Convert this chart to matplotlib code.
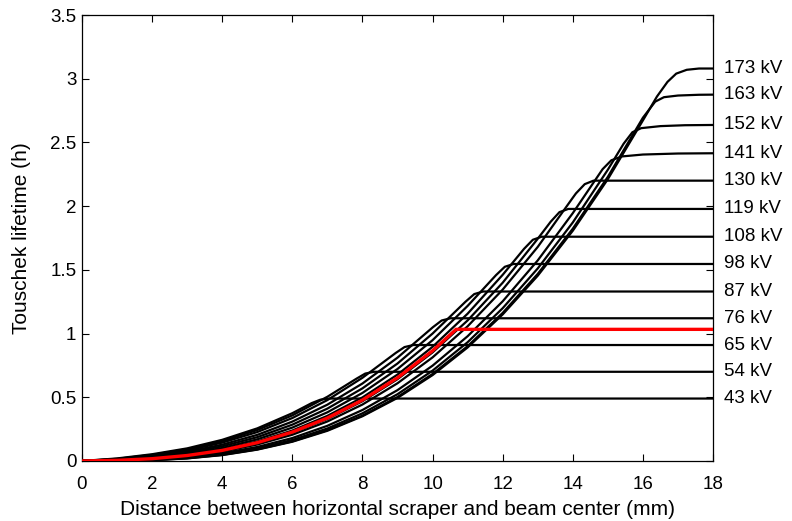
import matplotlib
matplotlib.use("Agg")
import matplotlib.pyplot as plt

plt.rcParams['font.family'] = ['Liberation Sans', 'DejaVu Sans']

# ---- data (x in mm, y in hours) ----
kv_labels = ["43 kV", "54 kV", "65 kV", "76 kV", "87 kV", "98 kV", "108 kV",
             "119 kV", "130 kV", "141 kV", "152 kV", "163 kV", "173 kV"]
plateau_end = [0.49, 0.70, 0.91, 1.12, 1.33, 1.546, 1.76, 1.978, 2.20, 2.415,
               2.637, 2.875, 3.08]

kv43_x = [0, 1, 2, 3, 4, 5, 6, 6.55, 6.8, 7.05, 18]
kv43_y = [0, 0.020, 0.053, 0.099, 0.166, 0.256, 0.375, 0.454, 0.481, 0.49, 0.49]

kv54_x = [0, 1, 2, 3, 4, 5, 6, 7, 7.83, 8.08, 8.33, 18]
kv54_y = [0, 0.017, 0.048, 0.092, 0.155, 0.243, 0.358, 0.504, 0.646, 0.686, 0.70, 0.70]

kv65_x = [0, 1, 2, 3, 4, 5, 6, 7, 8, 8.95, 9.2, 9.45, 18]
kv65_y = [0, 0.014, 0.043, 0.083, 0.144, 0.227, 0.337, 0.478, 0.653, 0.848, 0.894, 0.91, 0.91]

kv76_x = [0, 1, 2, 3, 4, 5, 6, 7, 8, 9, 10.01, 10.26, 10.51, 18]
kv76_y = [0, 0.012, 0.036, 0.073, 0.128, 0.205, 0.309, 0.442, 0.608, 0.811, 1.05, 1.1025, 1.12, 1.12]

kv87_x = [0, 1, 2, 3, 4, 5, 6, 7, 8, 9, 10, 10.94, 11.19, 11.44, 18]
kv87_y = [0, 0.010, 0.031, 0.064, 0.115, 0.187, 0.285, 0.411, 0.570, 0.765, 1.000, 1.25, 1.31, 1.33, 1.33]

kv98_x = [0, 1, 2, 3, 4, 5, 6, 7, 8, 9, 10, 11, 11.81, 12.06, 12.31, 18]
kv98_y = [0, 0.008, 0.026, 0.055, 0.102, 0.170, 0.262, 0.382, 0.534, 0.722, 0.948, 1.217, 1.4585, 1.524, 1.546, 1.546]

kv108_x = [0, 1, 2, 3, 4, 5, 6, 7, 8, 9, 10, 11, 12, 12.61, 12.86, 13.11, 18]
kv108_y = [0, 0.006, 0.020, 0.047, 0.090, 0.153, 0.239, 0.354, 0.499, 0.678, 0.896, 1.156, 1.461, 1.665, 1.736, 1.76, 1.76]

kv119_x = [0, 1, 2, 3, 4, 5, 6, 7, 8, 9, 10, 11, 12, 13, 13.37, 13.62, 13.87, 18]
kv119_y = [0, 0.005, 0.017, 0.041, 0.081, 0.140, 0.222, 0.330, 0.469, 0.642, 0.852, 1.103, 1.399, 1.744, 1.878, 1.953, 1.978, 1.978]

kv130_x = [0, 1, 2, 3, 4, 5, 6, 7, 8, 9, 10, 11, 12, 13, 14, 14.09, 14.34, 14.59, 18]
kv130_y = [0, 0.004, 0.015, 0.037, 0.073, 0.129, 0.206, 0.310, 0.443, 0.610, 0.813, 1.057, 1.345, 1.680, 2.066, 2.10, 2.1725, 2.20, 2.20]

kv141_x = [0, 1, 2, 3, 4, 5, 6, 7, 8, 9, 10, 11, 12, 13, 14, 14.85, 15.1, 15.4, 16.0, 17.0, 18]
kv141_y = [0, 0.003, 0.011, 0.029, 0.061, 0.110, 0.180, 0.276, 0.400, 0.556, 0.748, 0.979, 1.253, 1.574, 1.945, 2.29, 2.36, 2.39, 2.405, 2.413, 2.415]

kv152_x = [0, 1, 2, 3, 4, 5, 6, 7, 8, 9, 10, 11, 12, 13, 14, 15, 15.45, 15.7, 15.95, 16.5, 17.2, 18]
kv152_y = [0, 0.002, 0.008, 0.024, 0.053, 0.099, 0.165, 0.255, 0.374, 0.524, 0.709, 0.932, 1.199, 1.511, 1.872, 2.286, 2.49, 2.58, 2.612, 2.628, 2.635, 2.637]

kv163_x = [0, 1, 2, 3, 4, 5, 6, 7, 8, 9, 10, 11, 12, 13, 14, 15, 16, 16.1, 16.35, 16.6, 17.0, 17.6, 18]
kv163_y = [0, 0.001, 0.007, 0.021, 0.048, 0.091, 0.154, 0.242, 0.356, 0.502, 0.683, 0.901, 1.162, 1.468, 1.823, 2.230, 2.694, 2.73, 2.82, 2.855, 2.868, 2.874, 2.875]

kv173_x = [0, 1, 2, 3, 4, 5, 6, 7, 8, 9, 10, 11, 12, 13, 14, 15, 16, 16.4, 16.7, 16.95, 17.25, 17.6, 18]
kv173_y = [0, 0.001, 0.006, 0.020, 0.046, 0.089, 0.151, 0.237, 0.351, 0.495, 0.674, 0.891, 1.150, 1.454, 1.807, 2.212, 2.673, 2.86, 2.975, 3.04, 3.07, 3.08, 3.08]

red_x = [0, 1, 2, 3, 4, 5, 6, 7, 8, 9, 10, 10.67, 18]
red_y = [0, 0.005, 0.018, 0.043, 0.083, 0.144, 0.227, 0.337, 0.478, 0.653, 0.865, 1.033, 1.033]

curves_x = [kv43_x, kv54_x, kv65_x, kv76_x, kv87_x, kv98_x, kv108_x,
            kv119_x, kv130_x, kv141_x, kv152_x, kv163_x, kv173_x]
curves_y = [kv43_y, kv54_y, kv65_y, kv76_y, kv87_y, kv98_y, kv108_y,
            kv119_y, kv130_y, kv141_y, kv152_y, kv163_y, kv173_y]

x_ticks = [0, 2, 4, 6, 8, 10, 12, 14, 16, 18]
y_ticks = [0, 0.5, 1, 1.5, 2, 2.5, 3, 3.5]
y_tick_labels = ["0", "0.5", "1", "1.5", "2", "2.5", "3", "3.5"]

# ---- figure ----
fig = plt.figure(figsize=(7.92, 5.21), dpi=100)
ax = fig.add_axes([0.1035, 0.1152, 0.7968, 0.856])

for xs, ys in zip(curves_x, curves_y):
    ax.plot(xs, ys, color='black', lw=1.6, solid_joinstyle='round',
            solid_capstyle='butt')
ax.plot(red_x, red_y, color='#ff0000', lw=2.4, solid_joinstyle='miter', zorder=5)

for lab, yv in zip(kv_labels, plateau_end):
    ax.text(18.3, yv, lab, va='center', ha='left', fontsize=13.5, clip_on=False)

ax.set_xlim(0, 18)
ax.set_ylim(0, 3.5)
ax.set_xticks(x_ticks)
ax.set_yticks(y_ticks)
ax.set_yticklabels(y_tick_labels)
ax.tick_params(direction='in', top=True, right=True, length=5, width=0.8,
               labelsize=13.5)
ax.tick_params(axis='x', pad=11)
ax.tick_params(axis='y', pad=4)
for s in ax.spines.values():
    s.set_linewidth(0.9)

ax.set_xlabel("Distance between horizontal scraper and beam center (mm)",
              fontsize=15, labelpad=5)
ax.set_ylabel("Touschek lifetime (h)", fontsize=15, labelpad=14)

fig.savefig("out.png", dpi=100)
